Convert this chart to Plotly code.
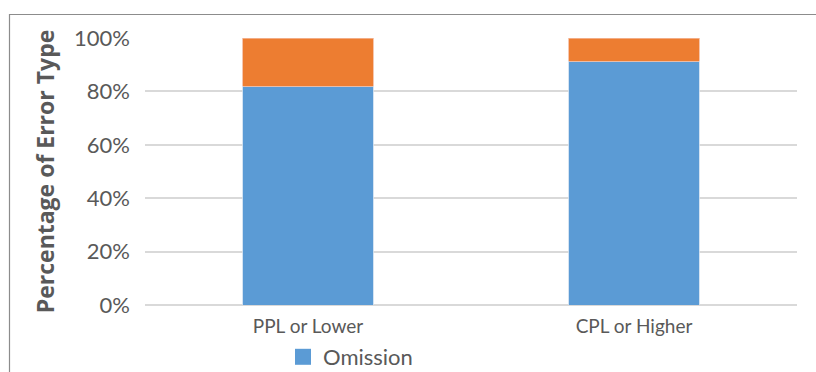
import plotly.graph_objects as go

# Share of each error type by proficiency group
categories = ["PPL or Lower", "CPL or Higher"]
omission = [0.82, 0.913]
commission = [0.18, 0.087]

W, H = 816, 372
L, R, T, B = 145, 19, 38, 67
FONT = "Lato"
GREY = "#595959"
BLUE, ORANGE = "#5B9BD5", "#ED7D31"

fig = go.Figure()
fig.add_trace(go.Bar(
    x=categories, y=omission, name="Omission", showlegend=False,
    legendgroup="om",
    marker=dict(color=BLUE, line=dict(color="#c9dcef", width=0.8)),
    width=0.4,
))
fig.add_trace(go.Bar(
    x=categories, y=commission, name="Commission", showlegend=False,
    marker=dict(color=ORANGE, line=dict(color="#f4b89a", width=0.8)),
    width=0.4,
))
# legend entry with a larger square swatch
fig.add_trace(go.Scatter(
    x=[None], y=[None], mode="markers", name="Omission", legendgroup="om",
    marker=dict(symbol="square", size=17, color=BLUE),
))

pw, ph = W - L - R, H - T - B
def px_x(p):
    return (p - L) / pw
def px_y(p):
    return (H - B - p) / ph

fig.update_layout(
    width=W, height=H,
    margin=dict(l=L, r=R, t=T, b=B, autoexpand=False),
    barmode="stack",
    plot_bgcolor="white", paper_bgcolor="white",
    font=dict(family=FONT, color=GREY),
    bargap=0.6,
    showlegend=True,
    legend=dict(
        orientation="h", xanchor="left", yanchor="middle",
        x=px_x(283), y=px_y(357),
        font=dict(size=22, color=GREY, family=FONT),
        bgcolor="rgba(0,0,0,0)", itemwidth=30,
    ),
    yaxis=dict(
        range=[0, 1], tickvals=[0, 0.2, 0.4, 0.6, 0.8, 1.0],
        tickformat=".0%", showgrid=True, gridcolor="#d9d9d9", gridwidth=1.5,
        zeroline=True, zerolinecolor="#d9d9d9", zerolinewidth=1.5,
        showline=False, tickfont=dict(size=22, color=GREY),
        ticklabelstandoff=14,
        title=dict(text="<b>Percentage of Error Type</b>",
                   font=dict(size=23, color=GREY, family="Open Sans"),
                   standoff=13),
    ),
    xaxis=dict(
        showline=False, showgrid=False,
        tickfont=dict(size=19, color=GREY),
        ticklabelstandoff=8,
    ),
    shapes=[
        dict(type="rect", xref="paper", yref="paper",
             x0=px_x(9.5), x1=px_x(W + 20), y0=px_y(H + 20), y1=px_y(14.5),
             line=dict(color="#8c8c8c", width=1.2), fillcolor="rgba(0,0,0,0)",
             layer="above"),
    ],
)

fig.write_html("out.html")
